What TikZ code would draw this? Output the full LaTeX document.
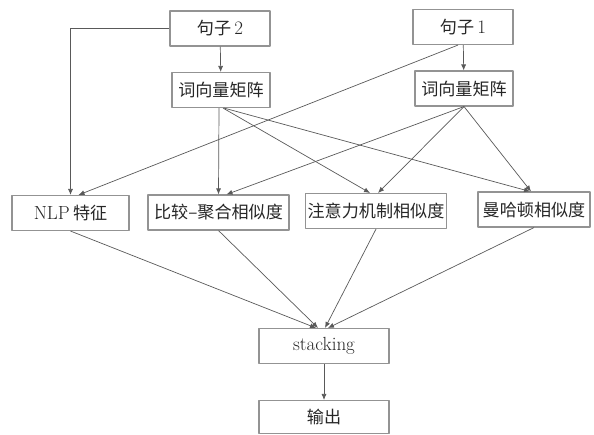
\documentclass[tikz,border=0pt]{standalone}
\usepackage{fontspec}
\newfontfamily\cjk[Scale=0.9]{Noto Sans CJK SC}
\usetikzlibrary{arrows.meta}
\begin{document}
\begin{tikzpicture}[x=1pt,y=-1pt,>={Latex[length=6pt,width=5pt]},line join=round,font=\fontsize{19}{21}\selectfont,
	box/.style={draw=gray!85,line width=1.1pt,inner sep=2pt,minimum height=35pt,text=black!85},
	edge/.style={->,draw=black!65,line width=0.7pt}]
	\useasboundingbox (0,0) rectangle (594,434);
	% input rows
	\node[box,minimum width=100pt] (s2) at (220,28.5) {{\cjk 句子}\,2};
	\node[box,minimum width=100pt] (s1) at (463,27) {{\cjk 句子}\,1};
	\node[box,minimum width=98pt] (w2) at (221,90) {\cjk 词向量矩阵};
	\node[box,minimum width=98pt] (w1) at (464,88.5) {\cjk 词向量矩阵};
	% features
	\node[box,minimum width=117pt] (nlp) at (70.5,213) {NLP\,{\cjk 特征}};
	\node[box,minimum width=141pt] (cmp) at (218.5,212.5) {\cjk 比较–聚合相似度};
	\node[box,minimum width=140pt] (att) at (376,211) {\cjk 注意力机制相似度};
	\node[box,minimum width=112pt] (man) at (534,209.5) {\cjk 曼哈顿相似度};
	% output
	\node[box,minimum width=130pt] (stk) at (324,346) {stacking};
	\node[box,minimum width=130pt,minimum height=33pt] (out) at (324,417) {\cjk 输出};
	\draw[edge] (s2) -- (w2);
	\draw[edge] (s1) -- (w1);
	\draw[edge] (s2.west) -| (nlp.north);
	\draw[edge] ([xshift=-5pt]s1.south) -- ([xshift=8pt]nlp.north);
	\draw[edge] ([xshift=-2pt]w2.south) -- (cmp.north);
	\draw[edge] ([xshift=2pt]w2.south) -- ([xshift=-6pt]att.north);
	\draw[edge] ([xshift=3pt]w2.south) -- ([xshift=-4pt]man.north);
	\draw[edge] (w1.south) -- ([xshift=8pt]cmp.north);
	\draw[edge] (w1.south) -- ([xshift=2pt]att.north);
	\draw[edge] (w1.south) -- ([xshift=-3pt]man.north);
	\draw[edge] (nlp.south) -- ([xshift=-8pt]stk.north);
	\draw[edge] (cmp.south) -- ([xshift=-6pt]stk.north);
	\draw[edge] (att.south) -- ([xshift=1pt]stk.north);
	\draw[edge] (man.south) -- ([xshift=4pt]stk.north);
	\draw[edge] (stk) -- (out);
\end{tikzpicture}
\end{document}
